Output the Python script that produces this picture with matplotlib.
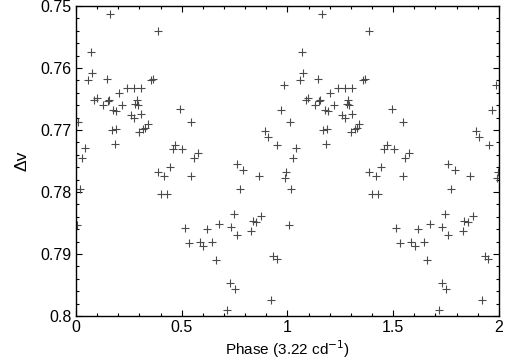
import matplotlib
matplotlib.use("Agg")
import matplotlib.pyplot as plt
from matplotlib.ticker import MultipleLocator, FuncFormatter
import numpy as np

# phase (one cycle) and delta-v values
phase = [0.161, 0.386, 0.069, 0.074, 0.058, 0.145, 0.366, 0.355, 0.241, 0.274,
         0.307, 0.203, 0.087, 0.098, 0.156, 0.150, 0.129, 0.219, 0.288, 0.281,
         0.293, 0.492, 0.177, 0.191, 0.259, 0.274, 0.307, 0.011, 0.340, 0.328,
         0.318, 0.299, 0.169, 0.189, 0.183, 0.041, 0.027, 0.470, 0.457, 0.985,
         0.545, 0.969, 0.892, 0.908, 0.952, 0.503, 0.577, 0.558, 0.019, 0.006,
         0.444, 0.386, 0.418, 0.400, 0.429, 0.761, 0.791, 0.545, 0.865, 0.994,
         0.990, 0.775, 0.515, 0.746, 0.876, 0.835, 0.852, 0.675, 0.618, 0.731,
         0.829, 0.761, 0.534, 0.586, 0.602, 0.645, 0.660, 0.933, 0.949, 0.730,
         0.750, 0.920, 0.715]
dv = [0.7513, 0.7541, 0.7575, 0.7608, 0.7620, 0.7617, 0.7618, 0.7620, 0.7632, 0.7632,
      0.7633, 0.7641, 0.7651, 0.7649, 0.7652, 0.7653, 0.7659, 0.7659, 0.7652, 0.7658,
      0.7659, 0.7666, 0.7668, 0.7670, 0.7676, 0.7681, 0.7674, 0.7687, 0.7691, 0.7696,
      0.7699, 0.7704, 0.7700, 0.7699, 0.7723, 0.7729, 0.7746, 0.7725, 0.7730, 0.7628,
      0.7687, 0.7668, 0.7702, 0.7712, 0.7725, 0.7731, 0.7737, 0.7746, 0.7796, 0.7853,
      0.7760, 0.7767, 0.7774, 0.7803, 0.7804, 0.7755, 0.7765, 0.7775, 0.7774, 0.7768,
      0.7778, 0.7795, 0.7858, 0.7836, 0.7839, 0.7847, 0.7848, 0.7851, 0.7860, 0.7856,
      0.7863, 0.7870, 0.7882, 0.7881, 0.7887, 0.7881, 0.7910, 0.7904, 0.7908, 0.7947,
      0.7957, 0.7974, 0.7991]

plt.rcParams["font.family"] = ["Liberation Sans", "DejaVu Sans"]

# plot two cycles
x = np.concatenate([phase, np.array(phase) + 1.0])
y = np.concatenate([dv, dv])

fig = plt.figure(figsize=(5.05, 3.64), dpi=100)
ax = fig.add_axes([0.1505, 0.132, 0.8375, 0.8515])

ax.plot(x, y, linestyle="none", marker="+", markersize=5.5,
        markeredgewidth=0.8, color="#4a4a4a", clip_on=True)

ax.set_xlim(0, 2)
ax.set_ylim(0.8, 0.75)

ax.xaxis.set_major_locator(MultipleLocator(0.5))
ax.xaxis.set_minor_locator(MultipleLocator(0.1))
ax.yaxis.set_major_locator(MultipleLocator(0.01))
ax.yaxis.set_minor_locator(MultipleLocator(0.002))
ax.xaxis.set_major_formatter(FuncFormatter(lambda v, _: f"{v:g}"))
ax.yaxis.set_major_formatter(FuncFormatter(lambda v, _: f"{round(v, 3):g}"))

ax.tick_params(which="both", direction="in", top=True, right=True,
               labelsize=11.5, color="black")
ax.tick_params(which="major", length=4, width=0.8, pad=3)
ax.tick_params(which="minor", length=2.5, width=0.8)
for s in ax.spines.values():
    s.set_linewidth(1.0)

ax.set_xlabel("Phase (3.22 cd$^{-1}$)", fontsize=11, labelpad=2)
ax.set_ylabel("Δv", fontsize=12.5, labelpad=8)

fig.savefig("out.png", dpi=100)
